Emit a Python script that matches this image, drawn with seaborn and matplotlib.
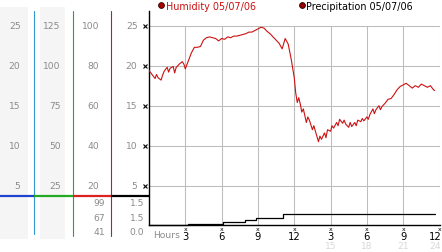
import matplotlib
matplotlib.use("Agg")
import matplotlib.pyplot as plt
import matplotlib.transforms as mtransforms
from matplotlib.lines import Line2D
from matplotlib.patches import Rectangle
import seaborn as sns
import pandas as pd

# ---------------- data ----------------
hum_hours = [0.00, 0.25, 0.50, 0.62, 0.75, 1.00, 1.12, 1.25, 1.50, 1.62, 1.75, 2.00, 2.12,
             2.25, 2.50, 2.75, 2.88, 3.00, 3.25, 3.50, 3.75, 4.00, 4.25, 4.50, 4.75, 5.00,
             5.25, 5.50, 5.75, 6.00, 6.25, 6.50, 6.75, 7.00, 7.25, 7.50, 7.75, 8.00, 8.25,
             8.50, 8.75, 9.00, 9.25, 9.50, 9.75, 10.00, 10.25, 10.50, 10.75, 11.00, 11.25,
             11.50, 11.75, 12.00, 12.12, 12.25, 12.37, 12.50, 12.62, 12.75, 13.00, 13.12,
             13.25, 13.50, 13.62, 13.75, 14.00, 14.12, 14.25, 14.50, 14.62, 14.75, 15.00,
             15.12, 15.25, 15.50, 15.62, 15.75, 16.00, 16.12, 16.25, 16.50, 16.62, 16.75,
             17.00, 17.12, 17.25, 17.50, 17.62, 17.75, 18.00, 18.12, 18.25, 18.50, 18.62,
             18.75, 19.00, 19.12, 19.25, 19.50, 19.75, 20.00, 20.25, 20.50, 20.75, 21.00,
             21.25, 21.50, 21.75, 22.00, 22.25, 22.50, 22.75, 23.00, 23.25, 23.50, 23.60]
hum_values = [19.4, 18.9, 18.4, 18.9, 18.5, 18.2, 18.8, 19.3, 19.8, 19.2, 19.7, 19.9, 19.1,
              19.8, 20.2, 20.5, 20.2, 19.6, 20.6, 21.6, 22.3, 22.3, 22.4, 23.2, 23.5, 23.6,
              23.5, 23.4, 23.1, 23.4, 23.3, 23.6, 23.5, 23.7, 23.7, 23.8, 23.9, 24.0, 24.2,
              24.2, 24.4, 24.6, 24.8, 24.7, 24.3, 24.0, 23.6, 23.2, 22.8, 22.1, 23.4,
              22.7, 20.8, 18.5, 16.6, 15.4, 16.0, 15.2, 14.2, 14.6, 12.9, 13.6,
              13.2, 12.0, 12.5, 11.8, 10.5, 11.2, 10.8, 11.6, 11.0, 12.0, 11.8,
              12.5, 12.2, 12.9, 12.5, 13.3, 12.8, 13.2, 12.7, 12.3, 12.9, 12.4,
              12.9, 12.5, 13.2, 13.0, 13.4, 13.1, 13.6, 13.3, 13.9, 14.6, 14.0,
              14.5, 15.0, 14.5, 14.9, 15.3, 15.8, 15.9, 16.4, 17.0, 17.4, 17.6,
              17.8, 17.5, 17.2, 17.5, 17.3, 17.7, 17.5, 17.3, 17.5, 17.0, 16.9]

precip_hours = [0.0, 3.2, 6.1, 7.9, 8.8, 11.1, 23.6]
precip_values = [0.0, 0.01, 0.03, 0.05, 0.07, 0.11, 0.11]

x_ticks = [3, 6, 9, 12, 15, 18, 21, 24]
x_tick_labels = ["3", "6", "9", "12", "3", "6", "9", "12"]
x_sub_labels = ["", "", "", "", "15", "18", "21", "24"]

y_ticks = [5, 10, 15, 20, 25]
col1_labels = ["5", "10", "15", "20", "25"]
col2_labels = ["25", "50", "75", "100", "125"]
col3_labels = ["20", "40", "60", "80", "100"]
col4_labels = ["5", "10", "15", "20", "25"]
col3_extra = ["99", "67", "41"]
col4_extra = ["1.5", "1.5", "0.0"]

legend_items = ["Humidity 05/07/06", "Precipitation 05/07/06"]

# ---------------- figure ----------------
sns.set_style("white")
plt.rcParams["font.family"] = ["DejaVu Sans"]

W, H = 442, 253
fig = plt.figure(figsize=(W / 100, H / 100), dpi=100)
fig.patch.set_facecolor("white")


def fx(x):
    return x / W


def fy(y):
    return 1 - y / H


def y_of(v):
    # pixel row of a value on the 0-25 scale
    return 226.7 - 8.0 * v


GRAY_TXT = "#8a8a8a"
FS = 6.6

# left gray column backgrounds
fig.patches.append(Rectangle((fx(0), fy(240)), fx(28), (240 - 8) / H,
                             transform=fig.transFigure, facecolor="#f5f5f5",
                             edgecolor="none", zorder=0))
fig.patches.append(Rectangle((fx(40), fy(240)), fx(25), (240 - 8) / H,
                             transform=fig.transFigure, facecolor="#f5f5f5",
                             edgecolor="none", zorder=0))

# vertical coloured separators
for xpos, col, y1 in [(33.5, "#3399cc", 235), (72.5, "#33a033", 237), (111, "#b32525", 237)]:
    fig.lines.append(Line2D([fx(xpos), fx(xpos)], [fy(12), fy(y1)],
                            transform=fig.transFigure, color=col, lw=0.8, zorder=1))

# horizontal coloured baseline segments
for x0, x1, col in [(0, 33.5, "#1f44d0"), (33.5, 72.5, "#22aa22"),
                    (72.5, 111, "#dd2020"), (111, 149, "black")]:
    fig.lines.append(Line2D([fx(x0), fx(x1)], [fy(196.7), fy(196.7)],
                            transform=fig.transFigure, color=col, lw=1.6,
                            solid_capstyle="butt", zorder=2))

# column labels
for v, a, b, c, d in zip(y_ticks, col1_labels, col2_labels, col3_labels, col4_labels):
    yy = fy(y_of(v))
    fig.text(fx(20.5), yy, a, ha="right", va="center", fontsize=FS, color=GRAY_TXT)
    fig.text(fx(60.5), yy, b, ha="right", va="center", fontsize=FS, color=GRAY_TXT)
    fig.text(fx(99.5), yy, c, ha="right", va="center", fontsize=FS, color=GRAY_TXT)
    fig.text(fx(137.5), yy, d, ha="right", va="center", fontsize=FS, color=GRAY_TXT)

for yy, a, b in zip([204, 218.3, 232.3], col3_extra, col4_extra):
    fig.text(fx(105), fy(yy), a, ha="right", va="center", fontsize=FS, color=GRAY_TXT)
    fig.text(fx(144.5), fy(yy), b, ha="right", va="center", fontsize=FS, color=GRAY_TXT)

# ---------------- main axes ----------------
ax = fig.add_axes([fx(149), fy(225.5), 290.5 / W, (225.5 - 12) / H])
ax.set_facecolor("none")
ax.set_xlim(0, 24)
ax.set_ylim((226.7 - 225.5) / 8.0, (226.7 - 12) / 8.0)
for s in ["top", "right"]:
    ax.spines[s].set_visible(False)
ax.spines["left"].set_color("black")
ax.spines["bottom"].set_color("black")
ax.spines["left"].set_linewidth(1.0)
ax.spines["bottom"].set_linewidth(1.0)
ax.set_xticks([])
ax.set_yticks([])

# grid
for v in y_ticks:
    ax.plot([0, 24], [v, v], color="#bdbdbd", lw=0.75, zorder=1)
for h in x_ticks:
    ax.plot([h, h], [ax.get_ylim()[0], 25], color="#bdbdbd", lw=0.75, zorder=1)

hum_df = pd.DataFrame({"hour": hum_hours, "humidity": hum_values})
sns.lineplot(data=hum_df, x="hour", y="humidity", ax=ax, color="#cc1111",
             lw=0.8, sort=False, zorder=3)
ax.set_xlabel("")
ax.set_ylabel("")

# y tick glyphs
ax.plot([-0.3] * len(y_ticks), y_ticks, ls="none", marker="x", ms=2.6, mew=0.8,
        color="black", clip_on=False, zorder=4)

# x tick glyphs and labels
trans = mtransforms.blended_transform_factory(ax.transData, fig.transFigure)
for h, lab, sub in zip(x_ticks, x_tick_labels, x_sub_labels):
    ax.text(h, fy(229.5), "x", transform=trans, ha="center", va="center",
            fontsize=4.5, color="black")
    if h == x_ticks[-1]:
        fig.text(fx(441.5), fy(237.5), lab, ha="right", va="center",
                 fontsize=7.2, color="black")
        if sub:
            fig.text(fx(441.5), fy(247), sub, ha="right", va="center",
                     fontsize=6.6, color="#d8d8d8")
        continue
    ax.text(h, fy(237.5), lab, transform=trans, ha="center", va="center",
            fontsize=7.2, color="black")
    if sub:
        ax.text(h, fy(247), sub, transform=trans, ha="center", va="center",
                fontsize=6.6, color="#d8d8d8")
ax.text(fx(153), fy(235.5), "Hours", transform=fig.transFigure, ha="left",
        va="center", fontsize=FS, color=GRAY_TXT)

# ---------------- precipitation axes ----------------
ax2 = fig.add_axes([fx(149), fy(225.5), 290.5 / W, (225.5 - 196.7) / H])
ax2.set_facecolor("none")
ax2.set_xlim(0, 24)
ax2.set_ylim(0, 0.288)
ax2.axis("off")
pr_df = pd.DataFrame({"hour": precip_hours, "precip": precip_values})
sns.lineplot(data=pr_df, x="hour", y="precip", ax=ax2, color="black", lw=0.9,
             drawstyle="steps-post", clip_on=False)

# ---------------- legend ----------------
fig.lines.append(Line2D([fx(160.7)], [fy(6)], transform=fig.transFigure, ls="none",
                        marker="o", ms=4.2, mfc="#aa0000", mec="#330000", mew=0.6))
fig.text(fx(165.5), fy(6.5), legend_items[0], ha="left", va="center",
         fontsize=6.9, color="#cc1111")
fig.lines.append(Line2D([fx(301.5)], [fy(6)], transform=fig.transFigure, ls="none",
                        marker="o", ms=4.2, mfc="#990000", mec="#220000", mew=0.6))
fig.text(fx(306.5), fy(6.5), legend_items[1], ha="left", va="center",
         fontsize=6.9, color="black")

fig.savefig("out.png", dpi=100)
